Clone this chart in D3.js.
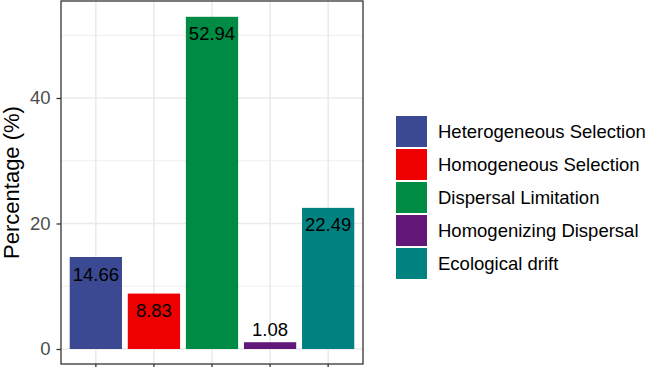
<!DOCTYPE html>
<html>
<head>
<meta charset="utf-8">
<script src="https://cdn.jsdelivr.net/npm/d3@7"></script>
<style>
  html, body { margin: 0; padding: 0; background: #fff; }
  svg { display: block; font-family: "Liberation Sans", Arial, sans-serif; }
</style>
</head>
<body>
<div id="chart"></div>
<script>
const categories = ["Heterogeneous Selection", "Homogeneous Selection", "Dispersal Limitation", "Homogenizing Dispersal", "Ecological drift"];
const values = [14.66, 8.83, 52.94, 1.08, 22.49];
const colors = ["#3B4992", "#EE0000", "#008B45", "#631879", "#008280"];
const yMajorTicks = [0, 20, 40];
const yMinorTicks = [10, 30, 50];
const yTitle = "Percentage (%)";

const W = 649, H = 367;
const panel = { left: 61, right: 363, top: 1, bottom: 364 };

const svg = d3.select("#chart").append("svg").attr("width", W).attr("height", H);

const x = d3.scaleBand().domain(categories).range([panel.left, panel.right])
  .paddingInner(0.1).paddingOuter(0.15);
const y = d3.scaleLinear().domain([0, 40]).range([349, 98]);
const color = d3.scaleOrdinal().domain(categories).range(colors);

// panel background
svg.append("rect").attr("x", panel.left).attr("y", panel.top)
  .attr("width", panel.right - panel.left).attr("height", panel.bottom - panel.top)
  .attr("fill", "#fff");

// grid
const g = svg.append("g");
g.selectAll(".ymin").data(yMinorTicks).join("line")
  .attr("x1", panel.left).attr("x2", panel.right)
  .attr("y1", d => y(d)).attr("y2", d => y(d))
  .attr("stroke", "#EBEBEB").attr("stroke-width", 0.8);
g.selectAll(".ymaj").data(yMajorTicks).join("line")
  .attr("x1", panel.left).attr("x2", panel.right)
  .attr("y1", d => y(d)).attr("y2", d => y(d))
  .attr("stroke", "#EBEBEB").attr("stroke-width", 1.6);
g.selectAll(".xmaj").data(categories).join("line")
  .attr("x1", d => x(d) + x.bandwidth() / 2).attr("x2", d => x(d) + x.bandwidth() / 2)
  .attr("y1", panel.top).attr("y2", panel.bottom)
  .attr("stroke", "#EBEBEB").attr("stroke-width", 1.6);

// bars
const data = categories.map((c, i) => ({ c, v: values[i] }));
svg.selectAll(".bar").data(data).join("rect")
  .attr("x", d => x(d.c)).attr("width", x.bandwidth())
  .attr("y", d => y(d.v)).attr("height", d => y(0) - y(d.v))
  .attr("fill", d => color(d.c));

// value labels
svg.selectAll(".lbl").data(data).join("text")
  .attr("x", d => x(d.c) + x.bandwidth() / 2)
  .attr("y", d => d.v < 5 ? y(d.v) - 6 : y(d.v) + 23.5)
  .attr("text-anchor", "middle")
  .attr("font-size", 18.5).attr("fill", "#000")
  .text(d => d.v.toFixed(2));

// panel border
svg.append("rect").attr("x", panel.left).attr("y", panel.top)
  .attr("width", panel.right - panel.left).attr("height", panel.bottom - panel.top)
  .attr("fill", "none").attr("stroke", "#333").attr("stroke-width", 1.3);

// y axis
const yAxis = d3.axisLeft(y).tickValues(yMajorTicks).tickSize(4.5).tickPadding(6);
const ya = svg.append("g").attr("transform", `translate(${panel.left},0)`).call(yAxis);
ya.select(".domain").remove();
ya.selectAll(".tick line").attr("stroke", "#333").attr("stroke-width", 1.3);
ya.selectAll(".tick text").attr("fill", "#4D4D4D").attr("font-size", 18.5)
  .attr("font-family", "Liberation Sans, Arial, sans-serif");

// x axis ticks
const xAxis = d3.axisBottom(x).tickSize(4.5).tickFormat("");
const xa = svg.append("g").attr("transform", `translate(0,${panel.bottom})`).call(xAxis);
xa.select(".domain").remove();
xa.selectAll(".tick line").attr("stroke", "#333").attr("stroke-width", 1.3);

// y title
svg.append("text")
  .attr("transform", `translate(19,${(panel.top + panel.bottom) / 2}) rotate(-90)`)
  .attr("text-anchor", "middle").attr("font-size", 22).attr("fill", "#000")
  .text(yTitle);

// legend
const keyX = 396, keyTop = 116, keySize = 31, keyStep = 33;
const leg = svg.append("g");
leg.selectAll("rect").data(categories).join("rect")
  .attr("x", keyX).attr("y", (d, i) => keyTop + i * keyStep)
  .attr("width", keySize).attr("height", keySize)
  .attr("fill", d => color(d));
leg.selectAll("text").data(categories).join("text")
  .attr("x", 438).attr("y", (d, i) => keyTop + i * keyStep + keySize / 2)
  .attr("dy", "0.35em").attr("font-size", 18.5).attr("fill", "#000")
  .text(d => d);
</script>
</body>
</html>
